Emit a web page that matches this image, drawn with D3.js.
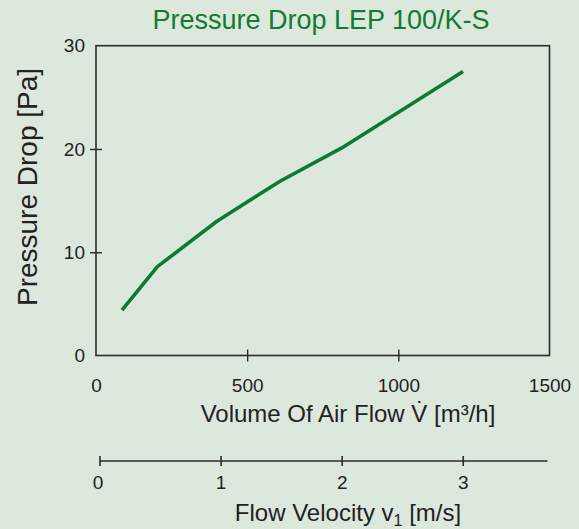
<!DOCTYPE html>
<html><head><meta charset="utf-8">
<script src="https://cdn.jsdelivr.net/npm/d3@7"></script>
<style>
html,body{margin:0;padding:0;background:#dde8dc;}
svg{display:block;font-family:"Liberation Sans",Arial,sans-serif;}
</style></head>
<body>
<svg id="c" width="579" height="529"></svg>
<script>
const flowValues = [86, 203, 400, 610, 813, 1214];
const pressureValues = [4.4, 8.6, 13.0, 16.9, 20.1, 27.5];
const xTicks = [0, 500, 1000, 1500];
const yTicks = [0, 10, 20, 30];
const vTicks = [0, 1, 2, 3];
const title = "Pressure Drop LEP 100/K-S";
const xTitle = "Volume Of Air Flow V\u0307 [m\u00b3/h]";
const yTitle = "Pressure Drop [Pa]";

const svg = d3.select("#c");
const bg = "#dde8dc", ink = "#2b2b2b", green = "#0b7a35";
const FF = "Liberation Sans, Arial, sans-serif";
svg.append("rect").attr("width",579).attr("height",529).attr("fill",bg);

const x = d3.scaleLinear().domain([0,1500]).range([96,549.5]);
const y = d3.scaleLinear().domain([0,30]).range([355.5,45.7]);
const v = d3.scaleLinear().domain([0,3.7]).range([99.5,547.5]);
const fmt = d3.format("d");

// frame
svg.append("rect").attr("x",x(0)).attr("y",y(30)).attr("width",x(1500)-x(0)).attr("height",y(0)-y(30))
  .attr("fill","none").attr("stroke",ink).attr("stroke-width",1.6);

// y ticks
const yAx = svg.append("g").attr("transform",`translate(${x(0)},0)`)
  .call(d3.axisLeft(y).tickValues(yTicks).tickFormat(fmt).tickSize(6).tickPadding(5));
yAx.select(".domain").remove();
yAx.selectAll(".tick line").attr("x1",-6).attr("x2",6).attr("stroke",ink).attr("stroke-width",1.4)
  .attr("display",d=>(d===0||d===30)?"none":null);
yAx.selectAll(".tick text").attr("font-size",19).attr("fill","#222").attr("font-family",FF);

// x ticks
const xAx = svg.append("g").attr("transform",`translate(0,${y(0)})`)
  .call(d3.axisBottom(x).tickValues(xTicks).tickFormat(fmt).tickSize(6).tickPadding(17));
xAx.select(".domain").remove();
xAx.selectAll(".tick line").attr("y1",-6).attr("y2",6).attr("stroke",ink).attr("stroke-width",1.4)
  .attr("display",d=>(d===0||d===1500)?"none":null);
xAx.selectAll(".tick text").attr("font-size",19).attr("fill","#222").attr("font-family",FF);

// velocity axis
const vAx = svg.append("g").attr("transform","translate(0,461)")
  .call(d3.axisBottom(v).tickValues(vTicks).tickFormat(fmt).tickSize(5).tickPadding(10));
vAx.select(".domain").attr("d",`M${v(0)},0H${v(3.7)}`).attr("stroke",ink).attr("stroke-width",1.6);
vAx.selectAll(".tick line").attr("y1",-5).attr("y2",5).attr("stroke",ink).attr("stroke-width",1.6);
vAx.selectAll(".tick text").attr("font-size",19).attr("fill","#222").attr("font-family",FF)
  .attr("dx",d=>d===0?-2:0);

// data line
const pts = flowValues.map((f,i)=>[f,pressureValues[i]]);
svg.append("path").datum(pts)
  .attr("d",d3.line().x(d=>x(d[0])).y(d=>y(d[1])))
  .attr("fill","none").attr("stroke",green).attr("stroke-width",3.6).attr("stroke-linejoin","round");

// titles
svg.append("text").attr("x",321).attr("y",29).attr("text-anchor","middle")
  .attr("font-size",27).attr("fill","#137a35").text(title);
svg.append("text").attr("x",348).attr("y",422).attr("text-anchor","middle")
  .attr("font-size",24).attr("fill","#222").text(xTitle);
svg.append("text").attr("transform","translate(37,187) rotate(-90)").attr("text-anchor","middle")
  .attr("font-size",28).attr("fill","#222").text(yTitle);
const vt = svg.append("text").attr("x",348).attr("y",521).attr("text-anchor","middle")
  .attr("font-size",24).attr("fill","#222");
vt.append("tspan").text("Flow Velocity v");
vt.append("tspan").attr("font-size",16).attr("dy",5).text("1");
vt.append("tspan").attr("dy",-5).text(" [m/s]");
</script>
</body></html>
